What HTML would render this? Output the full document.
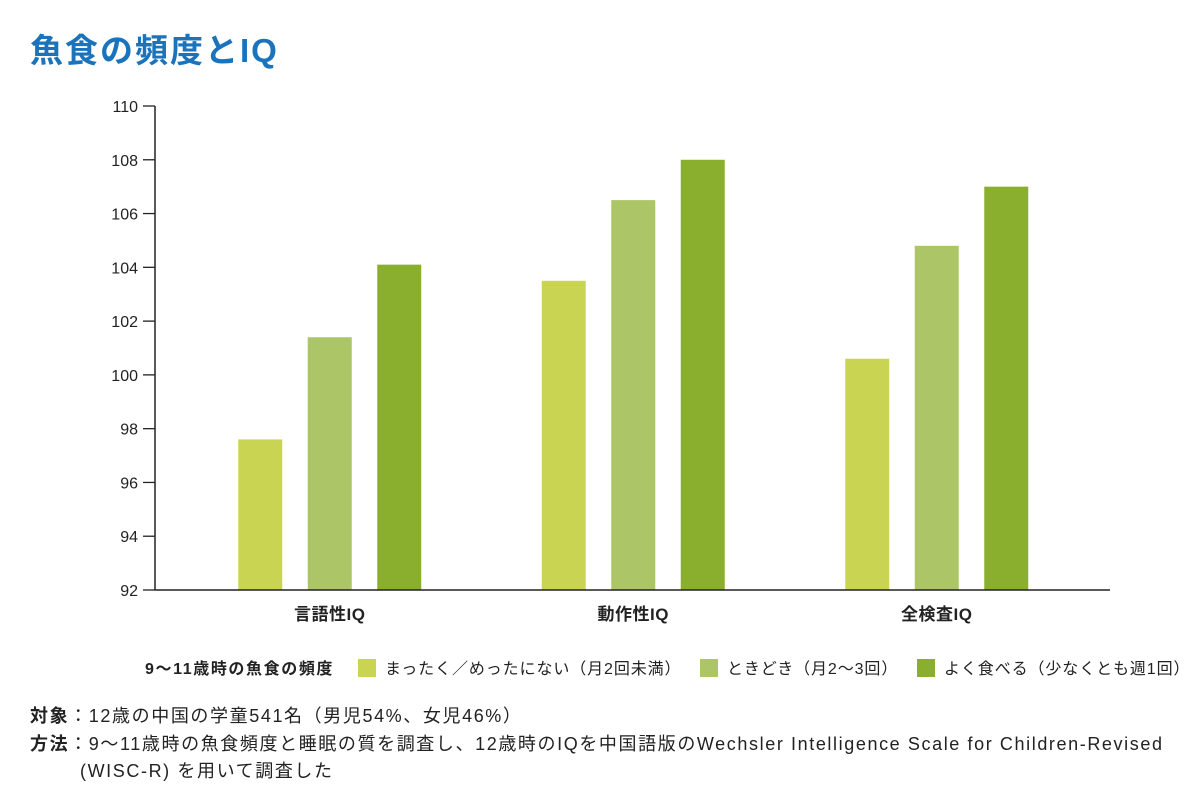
<!DOCTYPE html>
<html><head><meta charset="utf-8"><style>
body{margin:0;background:#fff;width:1200px;height:800px;overflow:hidden;font-family:"Liberation Sans","Noto Sans CJK JP",sans-serif;color:#222}
#title{position:absolute;left:30px;top:24px;font-size:33px;letter-spacing:2px;font-weight:bold;color:#1b74bb;margin:0}
.note{position:absolute;left:30px;font-size:18px;line-height:27px;letter-spacing:1.6px;white-space:nowrap}
</style></head><body>
<h1 id="title">魚食の頻度とIQ</h1>
<svg id="chart" width="1200" height="700" style="position:absolute;left:0;top:0"></svg>
<div class="note" style="top:703px"><b>対象</b>：12歳の中国の学童541名（男児54%、女児46%）</div>
<div class="note" style="top:731px"><b>方法</b>：9〜11歳時の魚食頻度と睡眠の質を調査し、12歳時のIQを中国語版のWechsler Intelligence Scale for Children-Revised<br><span style="padding-left:50px">(WISC-R) を用いて調査した</span></div>
<script>
const categories=["言語性IQ","動作性IQ","全検査IQ"];
const seriesNames=["まったく／めったにない（月2回未満）","ときどき（月2〜3回）","よく食べる（少なくとも週1回）"];
const rarely=[97.6,103.5,100.6];
const sometimes=[101.4,106.5,104.8];
const often=[104.1,108.0,107.0];
const yTicks=[92,94,96,98,100,102,104,106,108,110];
const colors=["#c9d552","#abc567","#8aaf2e"];
const NS="http://www.w3.org/2000/svg";
const svg=document.getElementById('chart');
const x0=155,x1=1110,yTop=106,yBot=590,yMin=92,yMax=110;
const bandStart=178,bandW=303.5;
const y=v=>yBot-(v-yMin)/(yMax-yMin)*(yBot-yTop);
const barW=44,step=69.5;
const xBar=(g,s)=>bandStart+bandW*(g+0.5)+(s-1)*step-barW/2;
function mk(t,a){const e=document.createElementNS(NS,t);for(const k in a)e.setAttribute(k,a[k]);svg.appendChild(e);return e;}
yTicks.forEach(t=>{
 const l=mk('line',{x1:143,x2:x0,y1:y(t),y2:y(t),stroke:'#222','stroke-width':1.3});
 
 
 const tx=mk('text',{x:138,y:y(t)+6,'text-anchor':'end','font-size':16,fill:'#222'});
 tx.textContent=t;
 
 
});
[rarely,sometimes,often].forEach((arr,s)=>{
 arr.forEach((v,g)=>{
  const r=mk('rect',{x:xBar(g,s),y:y(v),width:barW,height:yBot-y(v),fill:colors[s]});
  
  
 });
});
const ya=mk('line',{x1:x0,x2:x0,y1:yTop,y2:yBot,stroke:'#222','stroke-width':1.5});


const xa=mk('line',{x1:x0,x2:x1,y1:yBot,y2:yBot,stroke:'#222','stroke-width':1.5});


categories.forEach((c,g)=>{
 const t=mk('text',{x:bandStart+bandW*(g+0.5),y:620,'text-anchor':'middle','font-size':17,'font-weight':'bold',fill:'#222','letter-spacing':0.5});
 t.textContent=c;
 
 
});
const lt=mk('text',{x:145,y:674,'font-size':16,'font-weight':'bold',fill:'#222','letter-spacing':1.6});
lt.textContent="9〜11歳時の魚食の頻度";


const lx=[358,700,917];
seriesNames.forEach((n,s)=>{
 const r=mk('rect',{x:lx[s],y:659,width:18,height:18,fill:colors[s]});
 
 
 const t=mk('text',{x:lx[s]+27,y:674,'font-size':16,fill:'#222','letter-spacing':0.9});
 t.textContent=n;
 
 
});
</script>
</body></html>
